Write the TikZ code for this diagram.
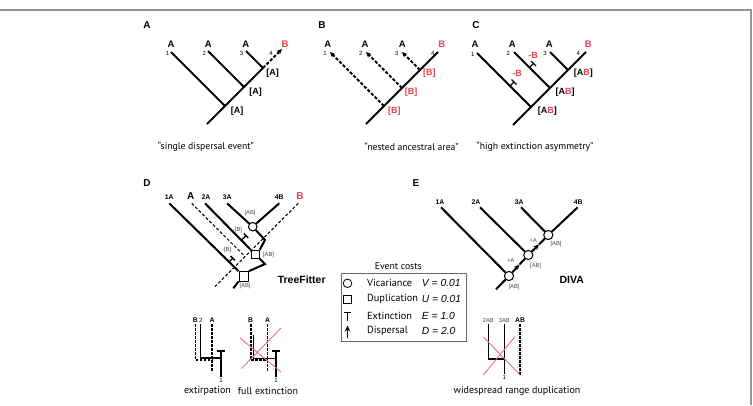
\documentclass[tikz,border=0pt]{standalone}
\usepackage{fontspec}
\setmainfont{PT Sans}
\newfontfamily\hv{Liberation Sans}
\usetikzlibrary{arrows.meta}
\definecolor{redB}{RGB}{232,64,84}
\definecolor{pinkX}{RGB}{228,110,140}
\definecolor{framec}{RGB}{150,150,150}
\definecolor{graytxt}{RGB}{70,70,70}
\begin{document}
\begin{tikzpicture}[x=1pt,y=-1pt,
  br/.style={line width=2pt},
  dbr/.style={line width=2pt,dash pattern=on 3.2pt off 1.8pt},
  tn/.style={line width=1.2pt},
  tipa/.style={-{Stealth[length=5.5pt,width=5pt]}},
  plab/.style={font=\hv\bfseries\fontsize{10}{12}\selectfont,inner sep=0pt},
  leaf/.style={font=\hv\bfseries\fontsize{9.5}{11}\selectfont,inner sep=0pt},
  num/.style={font=\hv\fontsize{6}{7}\selectfont,inner sep=0pt},
  anc/.style={font=\hv\bfseries\fontsize{9}{11}\selectfont,inner sep=0pt},
  sm/.style={font=\hv\fontsize{5.8}{7}\selectfont,inner sep=0pt,text=graytxt},
  dl/.style={font=\hv\bfseries\fontsize{6.8}{8}\selectfont,inner sep=0pt},
  captxt/.style={font=\fontsize{9.7}{11}\selectfont,inner sep=0pt},
  bcap/.style={font=\fontsize{10}{12}\selectfont,inner sep=0pt},
  meth/.style={font=\hv\bfseries\fontsize{10.5}{12}\selectfont,inner sep=0pt},
  evc/.style={circle,draw,line width=0.9pt,fill=white,minimum size=9pt,inner sep=0pt},
  evs/.style={rectangle,draw,line width=0.9pt,fill=white,minimum size=9pt,inner sep=0pt},
  xline/.style={pinkX,line width=0.9pt},
  lgt/.style={font=\fontsize{10.3}{12}\selectfont,anchor=west,inner sep=0pt},
  lgv/.style={font=\hv\itshape\fontsize{10.3}{12}\selectfont,anchor=west,inner sep=0pt},
]
\useasboundingbox (0,0) rectangle (753,405);
\draw[framec,line width=1.2pt] (0,10) -- (751,10) -- (751,405);

% ---------------- Panel A
\node[plab] (pA) at (147,25) {A};
\coordinate (aR) at (207,124);
\coordinate (a1) at (225,106);
\coordinate (a2) at (244,87);
\coordinate (a3) at (263,68);
\coordinate (aL1) at (171,52);
\coordinate (aL2) at (208,51);
\coordinate (aL3) at (246,51);
\coordinate (aL4) at (282,49);
\draw[br] (aR) -- (a3);
\draw[br] (a1) -- (aL1);
\draw[br] (a2) -- (aL2);
\draw[br] (a3) -- (aL3);
\draw[dbr,tipa] (a3) -- (aL4);
\node[leaf] (aA1) at (171,44.5) {A};
\node[leaf] (aA2) at (208.3,44.5) {A};
\node[leaf] (aA3) at (245.7,44.5) {A};
\node[leaf,text=redB] (aB4) at (285,44.5) {B};
\node[num] (an1) at (167.5,53) {1};
\node[num] (an2) at (204.3,53) {2};
\node[num] (an3) at (241.5,53) {3};
\node[num] (an4) at (271,53) {4};
\node[anc] (aa3) at (272.5,73.5) {[A]};
\node[anc] (aa2) at (255.7,92) {[A]};
\node[anc] (aa1) at (237,111) {[A]};
\node[captxt] (capA) at (206,147) {“single dispersal event”};

% ---------------- Panel B
\node[plab] (pB) at (322,25) {B};
\coordinate (bR) at (366,124);
\coordinate (b1) at (384,106);
\coordinate (b2) at (402,88);
\coordinate (b3) at (420,70);
\coordinate (bL1) at (330,52);
\coordinate (bL2) at (366,52);
\coordinate (bL3) at (402,52);
\coordinate (bL4) at (438,52);
\draw[br] (bR) -- (bL4);
\draw[dbr,tipa] (b1) -- (bL1);
\draw[dbr,tipa] (b2) -- (bL2);
\draw[dbr,tipa] (b3) -- (bL3);
\node[leaf] (bA1) at (327.7,44.5) {A};
\node[leaf] (bA2) at (365,44.5) {A};
\node[leaf] (bA3) at (402.3,44.5) {A};
\node[leaf,text=redB] (bB4) at (441.7,44.5) {B};
\node[num] (bn1) at (325,53) {1};
\node[num] (bn2) at (360.7,53) {2};
\node[num] (bn3) at (396.7,53) {3};
\node[num] (bn4) at (432.7,53) {4};
\node[anc,text=redB] (bb3) at (429.3,73.5) {[B]};
\node[anc,text=redB] (bb2) at (411,92) {[B]};
\node[anc,text=redB] (bb1) at (394.3,111) {[B]};
\node[captxt] (capB) at (411.7,147) {“nested ancestral area”};

% ---------------- Panel C
\node[plab] (pC) at (476,25) {C};
\coordinate (cR) at (513,125);
\coordinate (c1) at (531,107);
\coordinate (c2) at (550,88);
\coordinate (c3) at (568,70);
\coordinate (cL1) at (477,53);
\coordinate (cL2) at (514,52);
\coordinate (cL3) at (550,52);
\coordinate (cL4) at (586,52);
\draw[br] (cR) -- (cL4);
\draw[br] (c1) -- (cL1);
\draw[br] (c2) -- (cL2);
\draw[br] (c3) -- (cL3);
% extinction marks
\coordinate (cT2a) at (529.5,67.5);
\coordinate (cT2b) at (533.5,63.5);
\coordinate (cT2c) at (531,61);
\coordinate (cT2d) at (536,66);
\draw[tn] (cT2a) -- (cT2b);
\draw[tn] (cT2c) -- (cT2d);
\coordinate (cT1a) at (510,86);
\coordinate (cT1b) at (514,82);
\coordinate (cT1c) at (511.5,79.5);
\coordinate (cT1d) at (516.5,84.5);
\draw[tn] (cT1a) -- (cT1b);
\draw[tn] (cT1c) -- (cT1d);
\node[anc,text=redB] (cm2) at (533,55) {-B};
\node[anc,text=redB] (cm1) at (517,73.5) {-B};
\node[leaf] (cA1) at (475,44.5) {A};
\node[leaf] (cA2) at (512.3,44.5) {A};
\node[leaf] (cA3) at (549.3,44.5) {A};
\node[leaf,text=redB] (cB4) at (588.3,44.5) {B};
\node[num] (cn1) at (472.7,54) {1};
\node[num] (cn2) at (508.3,53) {2};
\node[num] (cn3) at (545,53) {3};
\node[num] (cn4) at (578.3,53) {4};
\node[anc] (cc3) at (583.3,73.5) {[A\textcolor{redB}{B}]};
\node[anc] (cc2) at (565,92) {[A\textcolor{redB}{B}]};
\node[anc] (cc1) at (547.3,111) {[A\textcolor{redB}{B}]};
\node[captxt] (capC) at (535,147) {“high extinction asymmetry”};

% ---------------- Panel D
\node[plab] (pD) at (147,183) {D};
\node[evc,minimum size=8.4pt] (dC) at (252.7,226.7) {};
\node[evs,minimum size=8.4pt] (dM) at (255.2,254.2) {};
\node[evs,minimum size=9.4pt] (dL) at (243.7,276.3) {};
\coordinate (d1A) at (169.3,203.3);
\coordinate (dAa) at (191.7,203.3);
\coordinate (dAe) at (245,256.5);
\coordinate (d2A) at (205,203.3);
\coordinate (d3A) at (227,203.3);
\coordinate (d4B) at (279.3,203.3);
\coordinate (dBb) at (298.3,203.3);
\coordinate (dBe) at (215,286.7);
\coordinate (dP2) at (265,240);
\coordinate (dP1) at (265,264);
\coordinate (dRt) at (233.3,288.3);
\draw[line width=1pt,dash pattern=on 3pt off 2pt] (dAa) -- (dAe);
\draw[line width=1pt,dash pattern=on 3pt off 2pt] (dBb) -- (dBe);
\draw[br] (d1A) -- (dL.north west);
\draw[br] (d2A) -- (dM.north west);
\draw[br] (d3A) -- (dC);
\draw[br] (d4B) -- (dC);
\draw[br] (dC) -- (dP2) -- (dM.north east);
\draw[br] (dM.south east) -- (dP1) -- (dL.north east);
\draw[br] (dL.south west) -- (dRt);
\node[evc,minimum size=8.4pt] (dC2) at (252.7,226.7) {};
\node[evs,minimum size=8.4pt] (dM2) at (255.2,254.2) {};
\node[evs,minimum size=9.4pt] (dL2) at (243.7,276.3) {};
% extinction marks on D
\coordinate (dT2a) at (241.7,240);
\coordinate (dT2b) at (246,235.7);
\coordinate (dT2c) at (243.8,233.5);
\coordinate (dT2d) at (248.2,237.9);
\draw[line width=1.4pt] (dT2a) -- (dT2b);
\draw[line width=1.4pt] (dT2c) -- (dT2d);
\coordinate (dT1a) at (228.5,262.5);
\coordinate (dT1b) at (232.8,258.2);
\coordinate (dT1c) at (230.6,256);
\coordinate (dT1d) at (235,260.4);
\draw[line width=1.4pt] (dT1a) -- (dT1b);
\draw[line width=1.4pt] (dT1c) -- (dT1d);
\node[sm] (dmB2) at (237.5,230) {-[B]};
\node[sm] (dmB1) at (226.7,250) {-[B]};
\node[sm] (dab3) at (250,213.3) {[AB]};
\node[sm] (dab2) at (268.5,255) {[AB]};
\node[sm] (dab1) at (245,285.5) {[AB]};
\node[dl] (dl1) at (169.3,197.3) {1A};
\node[font=\hv\bfseries\fontsize{10}{12}\selectfont,inner sep=0pt] (dlA) at (190.7,196) {A};
\node[dl] (dl2) at (206,197.3) {2A};
\node[dl] (dl3) at (227.3,197.3) {3A};
\node[dl] (dl4) at (279.3,197.3) {4B};
\node[font=\hv\bfseries\fontsize{10}{12}\selectfont,inner sep=0pt,text=redB] (dlB) at (300,196) {B};
\node[meth] (tf) at (301.7,279.3) {TreeFitter};

% ---------------- Panel E
\node[plab] (pE) at (416,183) {E};
\coordinate (e1A) at (441,207.3);
\coordinate (e2A) at (480,207.3);
\coordinate (e3A) at (521,207.3);
\coordinate (e4B) at (577.7,207.3);
\coordinate (eR) at (496,289.3);
\coordinate (eM1) at (519.5,264.5);
\coordinate (eM2) at (539,244.5);
\node[evc] (ec3) at (548.3,235) {};
\node[evc] (ec2) at (528.3,255) {};
\node[evc] (ec1) at (509,276) {};
\draw[br] (e1A) -- (ec1);
\draw[br] (e2A) -- (ec2);
\draw[br] (e3A) -- (ec3);
\draw[br] (e4B) -- (ec3);
\draw[br] (eR) -- (ec1);
\draw[br,tipa] (ec1) -- (eM1);
\draw[br] (eM1) -- (ec2);
\draw[br,tipa] (ec2) -- (eM2);
\draw[br] (eM2) -- (ec3);
\node[evc] (ec3b) at (548.3,235) {};
\node[evc] (ec2b) at (528.3,255) {};
\node[evc] (ec1b) at (509,276) {};
\node[dl] (el1) at (440,201.7) {1A};
\node[dl] (el2) at (476,201.7) {2A};
\node[dl] (el3) at (519.3,201.7) {3A};
\node[dl] (el4) at (578.3,201.7) {4B};
\node[sm] (epa2) at (533.3,241) {+A};
\node[sm] (epa1) at (510.7,260) {+A};
\node[sm] (eab3) at (556,244) {[AB]};
\node[sm] (eab2) at (535.7,266) {[AB]};
\node[sm] (eab1) at (514,287) {[AB]};
\node[meth] (diva) at (571.7,280) {DIVA};

% ---------------- Legend
\node[font=\fontsize{9.7}{11}\selectfont,inner sep=0pt] (evt) at (398.3,266.5) {Event costs};
\draw[framec!70!black,line width=0.6pt] (341,273.3) rectangle (466,341);
\node[evc,line width=0.8pt,minimum size=8.6pt] (lgC) at (347.5,283.3) {};
\node[evs,line width=0.8pt,minimum size=8.3pt] (lgS) at (347.5,299.3) {};
\coordinate (lgT1) at (347.5,312);
\coordinate (lgT2) at (347.5,321);
\coordinate (lgT3) at (344,312);
\coordinate (lgT4) at (351,312);
\draw[line width=0.8pt] (lgT1) -- (lgT2);
\draw[line width=0.8pt] (lgT3) -- (lgT4);
\coordinate (lgA1) at (347.5,338);
\coordinate (lgA2) at (347.5,325.5);
\draw[line width=1pt,-{Stealth[length=6pt,width=5.5pt]}] (lgA1) -- (lgA2);
\node[lgt] (lv) at (367,283.3) {Vicariance};
\node[lgt] (lu) at (367,299.3) {Duplication};
\node[lgt] (le) at (367,315.8) {Extinction};
\node[lgt] (ld) at (367,331) {Dispersal};
\node[lgv] (lvv) at (421.7,283.3) {V = 0.01};
\node[lgv] (luv) at (421.7,299.3) {U = 0.01};
\node[lgv] (lev) at (421.7,315.8) {E = 1.0};
\node[lgv] (ldv) at (421.7,331) {D = 2.0};

% ---------------- Extirpation
\coordinate (x1a) at (195.7,324);
\coordinate (x1b) at (195.7,360);
\coordinate (x1c) at (212,360);
\coordinate (x2a) at (212,324);
\coordinate (x2b) at (212,372);
\coordinate (x3a) at (200.5,324);
\coordinate (x3b) at (200.5,358);
\coordinate (x3c) at (221,358);
\coordinate (x4a) at (221,351);
\coordinate (x4b) at (221,377);
\coordinate (x4c) at (217,351);
\coordinate (x4d) at (225,351);
\draw[line width=1.3pt,dash pattern=on 2.5pt off 1.5pt] (x1a) -- (x1b) -- (x1c);
\draw[line width=1.3pt,dash pattern=on 2.5pt off 1.5pt] (x2a) -- (x2b);
\draw[line width=1.5pt] (x3a) -- (x3b) -- (x3c);
\draw[line width=1.5pt] (x4a) -- (x4b);
\draw[line width=1.3pt] (x4c) -- (x4d);
\node[font=\hv\bfseries\fontsize{6.8}{8}\selectfont,inner sep=0pt] (xB) at (195.3,320) {B};
\node[num] (x2l) at (200.9,320.3) {2};
\node[font=\hv\bfseries\fontsize{6.8}{8}\selectfont,inner sep=0pt] (xA) at (212,320) {A};
\node[num] (x1l) at (221,380.5) {1};
\node[bcap] (capX) at (207.5,391) {extirpation};

% ---------------- Full extinction
\coordinate (f1a) at (251,324);
\coordinate (f1b) at (251,360);
\coordinate (f1c) at (267.7,360);
\coordinate (f2a) at (267.7,324);
\coordinate (f2b) at (267.7,372);
\coordinate (f3a) at (253.3,335);
\coordinate (f3b) at (253.3,358.5);
\coordinate (f3c) at (276,358.5);
\coordinate (f4a) at (276,351);
\coordinate (f4b) at (276,377);
\coordinate (f4c) at (272,351);
\coordinate (f4d) at (280,351);
\draw[line width=1.3pt,dash pattern=on 2.5pt off 1.5pt] (f1a) -- (f1b) -- (f1c);
\draw[line width=1.3pt,dash pattern=on 2.5pt off 1.5pt] (f2a) -- (f2b);
\draw[line width=1.5pt] (f3a) -- (f3b) -- (f3c);
\draw[line width=1.5pt] (f4a) -- (f4b);
\draw[line width=1.3pt] (f4c) -- (f4d);
\node[font=\hv\bfseries\fontsize{6.8}{8}\selectfont,inner sep=0pt] (fB) at (250.5,320) {B};
\node[font=\hv\bfseries\fontsize{6.8}{8}\selectfont,inner sep=0pt] (fA) at (267.7,320) {A};
\node[num] (f1l) at (276,380.5) {1};
\coordinate (fx1) at (240,338);
\coordinate (fx2) at (281,372);
\coordinate (fx3) at (281,328);
\coordinate (fx4) at (241.5,368.5);
\draw[xline] (fx1) -- (fx2);
\draw[xline] (fx3) -- (fx4);
\node[bcap] (capF) at (268,391) {full extinction};

% ---------------- Widespread range duplication
\coordinate (w1a) at (488.3,324);
\coordinate (w1b) at (488.3,359);
\coordinate (w1c) at (504.3,359);
\coordinate (w2a) at (504.3,324);
\coordinate (w2b) at (504.3,373.5);
\coordinate (w3a) at (520,324);
\coordinate (w3b) at (520,375);
\draw[line width=1.5pt] (w1a) -- (w1b) -- (w1c);
\draw[line width=1.5pt] (w2a) -- (w2b);
\draw[line width=1.5pt,dash pattern=on 2.5pt off 1.5pt] (w3a) -- (w3b);
\node[font=\hv\fontsize{5.8}{7}\selectfont,inner sep=0pt,text=graytxt] (wl2) at (488.3,320) {2AB};
\node[font=\hv\fontsize{5.8}{7}\selectfont,inner sep=0pt,text=graytxt] (wl3) at (504.3,320) {3AB};
\node[font=\hv\bfseries\fontsize{6.8}{8}\selectfont,inner sep=0pt] (wlAB) at (520,320) {AB};
\node[num] (w1l) at (504.3,377.5) {1};
\coordinate (wx1) at (483.3,336.7);
\coordinate (wx2) at (520,375);
\coordinate (wx3) at (515,336.7);
\coordinate (wx4) at (483.3,375);
\draw[xline] (wx1) -- (wx2);
\draw[xline] (wx3) -- (wx4);
\node[bcap] (capW) at (517,391) {widespread range duplication};

\end{tikzpicture}
\end{document}
